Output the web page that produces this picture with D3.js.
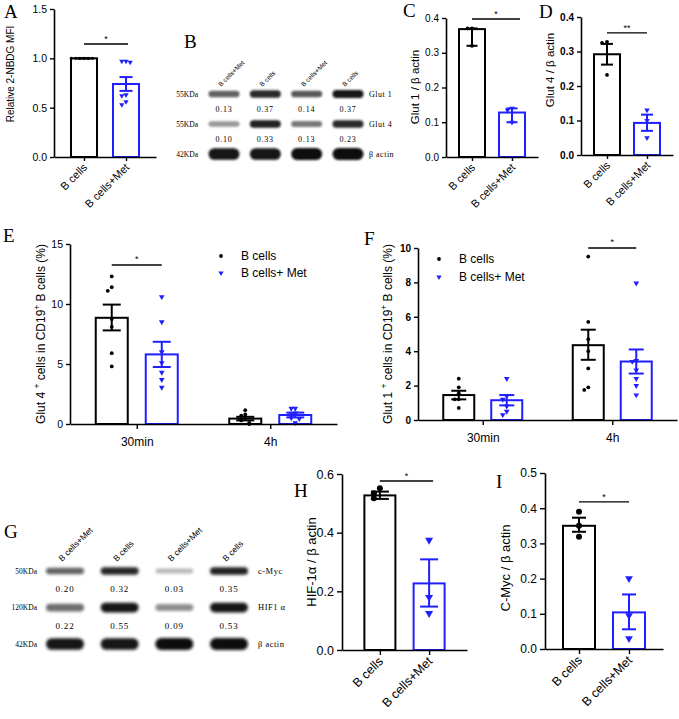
<!DOCTYPE html>
<html><head><meta charset="utf-8">
<script src="https://cdn.jsdelivr.net/npm/d3@7"></script>
<style>body{margin:0;background:#fff}svg{display:block}</style>
</head><body><svg id="c" width="679" height="719"></svg>
<script>
// ================= DATA =================
const twoCats = ["B cells", "B cells+Met"];

// Panel A
const aMeans = [1.0, 0.74];
const aErrLow = [1.0, 0.67];
const aErrHigh = [1.0, 0.81];
const aPtsB = [1, 1, 1, 1, 1, 1];
const aPtsMet = [0.97, 0.97, 0.96, 0.63, 0.62, 0.56, 0.53];
const aTicks = [0, 0.5, 1.0, 1.5];

// Panel C
const cMeans = [0.368, 0.128];
const cErrLow = [0.32, 0.10];
const cErrHigh = [0.37, 0.14];
const cPtsB = [0.37, 0.37, 0.32];
const cPtsMet = [0.14, 0.135, 0.10];
const cTicks = [0, 0.1, 0.2, 0.3, 0.4];

// Panel D
const dMeans = [0.292, 0.093];
const dErrLow = [0.262, 0.07];
const dErrHigh = [0.322, 0.117];
const dPtsB = [0.328, 0.325, 0.232];
const dPtsMet = [0.13, 0.10, 0.05];
const dTicks = [0, 0.1, 0.2, 0.3, 0.4];

// Panels E/F
const timeCats = ["30min", "4h"];
const seriesNames = ["B cells", "B cells+ Met"];

const eMeansB = [8.85, 0.45];
const eErrLowB = [7.8, 0.3];
const eErrHighB = [9.95, 0.6];
const ePtsB = [[12.3, 11.4, 11.1, 8.75, 8.1, 5.9, 4.8], [1.15, 0.8, 0.7, 0.4, 0.3, 0.1, 0.0]];
const eMeansMet = [5.8, 0.75];
const eErrLowMet = [4.75, 0.55];
const eErrHighMet = [6.85, 0.95];
const ePtsMet = [[10.6, 8.5, 6.0, 5.1, 4.3, 3.7, 3.05], [1.3, 1.3, 0.9, 0.75, 0.5, 0.45, 0.1]];
const eTicks = [0, 5, 10, 15];

const fMeansB = [1.45, 4.35];
const fErrLowB = [1.2, 3.5];
const fErrHighB = [1.7, 5.25];
const fPtsB = [[2.4, 1.9, 1.55, 1.2, 1.2, 0.7], [9.5, 5.7, 4.7, 4.0, 3.0, 1.9, 1.75]];
const fMeansMet = [1.15, 3.4];
const fErrLowMet = [0.85, 2.7];
const fErrHighMet = [1.45, 4.1];
const fPtsMet = [[2.4, 1.4, 1.2, 0.8, 0.5, 0.3], [7.95, 3.45, 3.4, 2.9, 2.4, 2.0, 1.45]];
const fTicks = [0, 2, 4, 6, 8, 10];

// Panel H
const hMeans = [0.527, 0.227];
const hErrLow = [0.515, 0.148];
const hErrHigh = [0.54, 0.309];
const hPtsB = [0.551, 0.534, 0.517];
const hPtsMet = [0.375, 0.18, 0.125];
const hTicks = [0, 0.2, 0.4, 0.6];

// Panel I
const iMeans = [0.35, 0.104];
const iErrLow = [0.333, 0.056];
const iErrHigh = [0.373, 0.155];
const iPtsB = [0.39, 0.35, 0.319];
const iPtsMet = [0.2, 0.095, 0.03];
const iTicks = [0, 0.1, 0.2, 0.3, 0.4, 0.5];

// Blot B
const bLanes = ["B cells+Met", "B cells", "B cells+Met", "B cells"];
const bMarkers = ["55KDa", "55KDa", "42KDa"];
const bProteins = ["Glut 1", "Glut 4", "β actin"];
const bRatios = [["0.13", "0.37", "0.14", "0.37"], ["0.10", "0.33", "0.13", "0.23"]];
const bBandDark = [[0.6, 0.85, 0.65, 0.95], [0.35, 0.9, 0.5, 0.85], [0.95, 0.95, 1, 1]];

// Blot G
const gLanes = ["B cells+Met", "B cells", "B cells+Met", "B cells"];
const gMarkers = ["50KDa", "120KDa", "42KDa"];
const gProteins = ["c-Myc", "HIF1 α", "β actin"];
const gRatios = [["0.20", "0.32", "0.03", "0.35"], ["0.22", "0.55", "0.09", "0.53"]];
const gBandDark = [[0.6, 0.88, 0.22, 0.9], [0.55, 0.95, 0.4, 0.95], [0.95, 0.95, 1, 1]];

// ================= DRAWING =================
const BLUE = "#1f1fff";
const SANS = "Liberation Sans, Arial, sans-serif";
const SERIF = "Liberation Serif, Times New Roman, serif";
const svg = d3.select("#c");
svg.append("rect").attr("width", 679).attr("height", 719).attr("fill", "#fff");
const defs = svg.append("defs");
[["blurB", 1.1], ["blurG", 1.4]].forEach(([id, s]) => {
  defs.append("filter").attr("id", id).attr("x", "-30%").attr("y", "-100%").attr("width", "160%").attr("height", "300%")
    .append("feGaussianBlur").attr("stdDeviation", s);
});

function styleAxis(g, font, bold) {
  g.select(".domain").attr("stroke", "#000").attr("stroke-width", 1.6);
  g.selectAll(".tick line").attr("stroke", "#000").attr("stroke-width", 1.4);
  g.selectAll(".tick text").attr("fill", "#000").attr("font-size", font)
    .attr("font-family", SANS).attr("font-weight", bold ? "bold" : "normal");
}

function swarmOffsets(vals, y, spacing) {
  const placed = [];
  return vals.map(v => {
    const py = y(v);
    const n = placed.filter(q => Math.abs(q - py) < spacing).length;
    placed.push(py);
    if (n === 0) return 0;
    return (n % 2 ? -1 : 1) * Math.ceil(n / 2) * spacing;
  });
}

function drawPts(g, vals, cx, y, kind, size, spacing) {
  const offs = swarmOffsets(vals, y, spacing);
  if (kind === "dot") {
    g.selectAll(null).data(vals).join("circle")
      .attr("cx", (d, i) => cx + offs[i]).attr("cy", d => y(d)).attr("r", size).attr("fill", "#000");
  } else {
    g.selectAll(null).data(vals).join("path")
      .attr("d", d3.symbol(d3.symbolTriangle, size))
      .attr("transform", (d, i) => `translate(${cx + offs[i]},${y(d)}) rotate(180)`)
      .attr("fill", BLUE);
  }
}

function errBar(g, cx, y1, y2, capW, color, sw) {
  g.append("line").attr("x1", cx).attr("x2", cx).attr("y1", y1).attr("y2", y2).attr("stroke", color).attr("stroke-width", sw);
  [y1, y2].forEach(yy => g.append("line").attr("x1", cx - capW / 2).attr("x2", cx + capW / 2)
    .attr("y1", yy).attr("y2", yy).attr("stroke", color).attr("stroke-width", sw));
}

function letter(t, x, y) {
  svg.append("text").attr("x", x).attr("y", y).attr("font-family", SERIF).attr("font-size", 19).text(t);
}

function yLabel(g, x, y, font, parts) {
  const t = g.append("text").attr("transform", `translate(${x},${y}) rotate(-90)`).attr("text-anchor", "middle")
    .attr("font-family", SANS).attr("font-size", font).attr("fill", "#000");
  parts.forEach(p => {
    if (typeof p === "string") t.append("tspan").text(p);
    else t.append("tspan").attr("baseline-shift", "super").attr("font-size", font * 0.7).text(p.sup);
  });
}

function twoBar(p) {
  const g = svg.append("g");
  const x = d3.scalePoint().domain(twoCats).range([p.x0, p.x1]).padding(p.pad);
  const y = d3.scaleLinear().domain([0, p.yMax]).range([p.yBase, p.yTop]);
  const colors = ["#000", BLUE];
  g.selectAll(null).data(twoCats).join("rect")
    .attr("x", d => x(d) - p.barW / 2).attr("y", (d, i) => y(p.means[i]))
    .attr("width", p.barW).attr("height", (d, i) => y(0) - y(p.means[i]))
    .attr("fill", "#fff").attr("stroke", (d, i) => colors[i]).attr("stroke-width", p.sw);
  twoCats.forEach((c, i) => errBar(g, x(c), y(p.errLow[i]), y(p.errHigh[i]), p.capW, colors[i], p.sw));
  p.pts.forEach((vals, i) => drawPts(g, vals, x(twoCats[i]), y, i ? "tri" : "dot", i ? p.tri : p.dot, p.spacing));
  const ya = g.append("g").attr("transform", `translate(${p.x0},0)`)
    .call(d3.axisLeft(y).tickValues(p.ticks).tickFormat(d3.format(".1f")).tickSize(p.tick).tickSizeOuter(0));
  styleAxis(ya, p.tickFont, p.bold);
  const xa = g.append("g").attr("transform", `translate(0,${p.yBase})`)
    .call(d3.axisBottom(x).tickSize(p.tick).tickSizeOuter(0).tickFormat(""));
  styleAxis(xa, p.tickFont, p.bold);
  g.selectAll(null).data(twoCats).join("text").attr("text-anchor", "end")
    .attr("transform", d => `translate(${x(d) + 4},${p.yBase + p.tick + 7}) rotate(-45)`)
    .attr("font-family", SANS).attr("font-size", p.xFont).text(d => d);
  const sy = y(p.sig);
  g.append("line").attr("x1", x(twoCats[0])).attr("x2", x(twoCats[1]) + p.sigExt).attr("y1", sy).attr("y2", sy)
    .attr("stroke", "#000").attr("stroke-width", 1.4);
  g.append("text").attr("x", (x(twoCats[0]) + x(twoCats[1]) + p.sigExt) / 2).attr("y", sy - 2)
    .attr("text-anchor", "middle").attr("font-family", SANS).attr("font-size", 9).text(p.sigLabel);
  yLabel(g, p.ylx, p.yly, p.yFont, [p.yText]);
}

function groupBar(p) {
  const g = svg.append("g");
  const x = d3.scalePoint().domain(timeCats).range([p.x0, p.x1]).padding(0.5);
  const xi = d3.scaleBand().domain(seriesNames).range([-p.inner, p.inner]).paddingInner(p.pi);
  const y = d3.scaleLinear().domain([0, p.yMax]).range([p.yBase, p.yTop]);
  const colors = ["#000", BLUE];
  const bw = xi.bandwidth();
  const series = [
    { m: p.meansB, lo: p.lowB, hi: p.highB, pts: p.ptsB },
    { m: p.meansMet, lo: p.lowMet, hi: p.highMet, pts: p.ptsMet }
  ];
  const cx = (t, s) => x(t) + xi(s) + bw / 2;
  series.forEach((s, si) => {
    timeCats.forEach((t, ti) => {
      const c = cx(t, seriesNames[si]);
      g.append("rect").attr("x", c - bw / 2).attr("y", y(s.m[ti])).attr("width", bw).attr("height", y(0) - y(s.m[ti]))
        .attr("fill", "#fff").attr("stroke", colors[si]).attr("stroke-width", 2);
    });
  });
  series.forEach((s, si) => timeCats.forEach((t, ti) =>
    errBar(g, cx(t, seriesNames[si]), y(s.lo[ti]), y(s.hi[ti]), p.capW, colors[si], 2)));
  series.forEach((s, si) => timeCats.forEach((t, ti) =>
    drawPts(g, s.pts[ti], cx(t, seriesNames[si]), y, si ? "tri" : "dot", si ? 14 : 1.9, 4)));
  const ya = g.append("g").attr("transform", `translate(${p.x0},0)`)
    .call(d3.axisLeft(y).tickValues(p.ticks).tickFormat(d3.format("d")).tickSize(4).tickSizeOuter(0));
  styleAxis(ya, p.tickFont, p.bold);
  const xa = g.append("g").attr("transform", `translate(0,${p.yBase})`)
    .call(d3.axisBottom(x).tickSize(5).tickSizeOuter(0).tickPadding(6));
  styleAxis(xa, 12, false);
  xa.selectAll(".tick text").attr("dy", "0.9em");
  const sy = y(p.sig);
  const t0 = timeCats[p.sigGroup];
  g.append("line").attr("x1", cx(t0, seriesNames[0])).attr("x2", cx(t0, seriesNames[1])).attr("y1", sy).attr("y2", sy)
    .attr("stroke", "#000").attr("stroke-width", 1.4);
  g.append("text").attr("x", x(t0)).attr("y", sy - 3).attr("text-anchor", "middle")
    .attr("font-family", SANS).attr("font-size", 9).text("*");
  // legend
  const lg = g.append("g");
  const ly = d3.scalePoint().domain(seriesNames).range(p.legY);
  seriesNames.forEach((s, si) => {
    if (si === 0) lg.append("circle").attr("cx", p.legX).attr("cy", ly(s)).attr("r", 1.9).attr("fill", "#000");
    else lg.append("path").attr("d", d3.symbol(d3.symbolTriangle, 12)).attr("transform", `translate(${p.legX},${ly(s)}) rotate(180)`).attr("fill", BLUE);
    lg.append("text").attr("x", p.legX + 20).attr("y", ly(s)).attr("dy", "0.35em")
      .attr("font-family", SANS).attr("font-size", 12).text(s);
  });
  yLabel(g, p.ylx, p.yly, 12, p.yParts);
}

function blot(p) {
  const g = svg.append("g");
  const xs = d3.scalePoint().domain(d3.range(p.lanes.length)).range(p.laneRange);
  const rowKeys = ["b0", "r0", "b1", "r1", "b2"];
  const ys = d3.scalePoint().domain(rowKeys).range(p.rowRange);
  const gray = d => { const v = Math.round(232 - 222 * d); return `rgb(${v},${v},${v})`; };
  p.dark.forEach((row, ri) => {
    const yy = ys("b" + ri);
    const th = d => p.rowH[ri] * (0.5 + 0.5 * d);
    g.selectAll(null).data(row).join("rect")
      .attr("x", (d, i) => xs(i) - p.bandW / 2).attr("width", p.bandW)
      .attr("y", d => yy - th(d) / 2).attr("height", d => th(d)).attr("rx", d => th(d) / 2)
      .attr("fill", d => gray(d)).attr("filter", `url(#${p.blur})`);
    g.append("text").attr("x", p.markerX).attr("y", yy).attr("dy", "0.35em").attr("text-anchor", "end")
      .attr("font-family", SERIF).attr("font-size", p.markerFont).text(p.markers[ri]);
    g.append("text").attr("x", p.protX).attr("y", yy).attr("dy", "0.35em")
      .attr("font-family", SERIF).attr("font-size", p.protFont).attr("letter-spacing", 0.5).text(p.proteins[ri]);
  });
  p.ratios.forEach((row, ri) => {
    g.selectAll(null).data(row).join("text")
      .attr("x", (d, i) => xs(i)).attr("y", ys("r" + ri)).attr("dy", "0.35em").attr("text-anchor", "middle")
      .attr("font-family", SERIF).attr("font-size", p.ratioFont).attr("letter-spacing", 0.8).text(d => d);
  });
  g.selectAll(null).data(p.lanes).join("text")
    .attr("transform", (d, i) => `translate(${xs(i) - 3},${p.laneY}) rotate(-45)`)
    .attr("font-family", SANS).attr("font-size", p.laneFont).text(d => d);
}

// ---- Panel A
letter("A", 4, 18);
twoBar({ x0: 54, x1: 156, pad: 0.714, yBase: 157, yTop: 9, yMax: 1.5, ticks: aTicks, tick: 4, tickFont: 10.5, bold: false,
  means: aMeans, errLow: aErrLow, errHigh: aErrHigh, pts: [aPtsB, aPtsMet], barW: 26, sw: 2, capW: 13,
  dot: 1.6, tri: 12, spacing: 4.2, xFont: 11, sig: 1.145, sigExt: 2, sigLabel: "*",
  ylx: 14, yly: 74, yFont: 10, yText: "Relative 2-NBDG MFI" });

// ---- Panel B blot
letter("B", 184, 48);
blot({ lanes: bLanes, markers: bMarkers, proteins: bProteins, ratios: bRatios, dark: bBandDark,
  laneRange: [224, 348], rowRange: [94, 154], bandW: 31, rowH: [8, 8, 12], blur: "blurB",
  laneY: 87, laneFont: 6.5, markerX: 198, markerFont: 7.5, protX: 369, protFont: 8, ratioFont: 8 });

// ---- Panel C
letter("C", 403, 17);
twoBar({ x0: 446, x1: 538, pad: 0.65, yBase: 157, yTop: 18, yMax: 0.4, ticks: cTicks, tick: 4, tickFont: 10, bold: false,
  means: cMeans, errLow: cErrLow, errHigh: cErrHigh, pts: [cPtsB, cPtsMet], barW: 26, sw: 2, capW: 11,
  dot: 1.9, tri: 13, spacing: 4.5, xFont: 11, sig: 0.397, sigExt: 8, sigLabel: "*",
  ylx: 419, yly: 87, yFont: 11.5, yText: "Glut 1 / β actin" });

// ---- Panel D
letter("D", 539, 18);
twoBar({ x0: 581, x1: 673, pad: 0.65, yBase: 155, yTop: 17, yMax: 0.4, ticks: dTicks, tick: 4, tickFont: 10, bold: true,
  means: dMeans, errLow: dErrLow, errHigh: dErrHigh, pts: [dPtsB, dPtsMet], barW: 26, sw: 2, capW: 12,
  dot: 1.9, tri: 13, spacing: 5, xFont: 11, sig: 0.354, sigExt: 0, sigLabel: "**",
  ylx: 554, yly: 70, yFont: 11.5, yText: "Glut 4 / β actin" });

// ---- Panel E
letter("E", 3, 242);
groupBar({ x0: 70, x1: 337, yBase: 424, yTop: 244, yMax: 15, ticks: eTicks, tickFont: 10.5, bold: false,
  inner: 41, pi: 0.36, capW: 18,
  meansB: eMeansB, lowB: eErrLowB, highB: eErrHighB, ptsB: ePtsB,
  meansMet: eMeansMet, lowMet: eErrLowMet, highMet: eErrHighMet, ptsMet: ePtsMet,
  sig: 13.25, sigGroup: 0, legX: 221, legY: [256, 273], ylx: 45, yly: 334,
  yParts: ["Glut 4 ", { sup: "+" }, " cells in CD19", { sup: "+" }, " B cells (%)"] });

// ---- Panel F
letter("F", 364, 245);
groupBar({ x0: 418, x1: 677, yBase: 420, yTop: 248, yMax: 10, ticks: fTicks, tickFont: 10, bold: true,
  inner: 39.5, pi: 0.354, capW: 15,
  meansB: fMeansB, lowB: fErrLowB, highB: fErrHighB, ptsB: fPtsB,
  meansMet: fMeansMet, lowMet: fErrLowMet, highMet: fErrHighMet, ptsMet: fPtsMet,
  sig: 10.0, sigGroup: 1, legX: 439, legY: [259, 277], ylx: 392, yly: 334,
  yParts: ["Glut 1 ", { sup: "+" }, " cells in CD19", { sup: "+" }, " B cells (%)"] });

// ---- Panel G blot
letter("G", 4, 538);
blot({ lanes: gLanes, markers: gMarkers, proteins: gProteins, ratios: gRatios, dark: gBandDark,
  laneRange: [65, 229], rowRange: [571, 644], bandW: 38, rowH: [8, 10, 12], blur: "blurG",
  laneY: 562, laneFont: 8.5, markerX: 37, markerFont: 7.5, protX: 258, protFont: 8.5, ratioFont: 9 });

// ---- Panel H
letter("H", 294, 497);
twoBar({ x0: 342, x1: 467, pad: 0.77, yBase: 650, yTop: 474, yMax: 0.6, ticks: hTicks, tick: 5, tickFont: 12.5, bold: false,
  means: hMeans, errLow: hErrLow, errHigh: hErrHigh, pts: [hPtsB, hPtsMet], barW: 31, sw: 2, capW: 18,
  dot: 3, tri: 28, spacing: 6, xFont: 12.5, sig: 0.576, sigExt: 4, sigLabel: "*",
  ylx: 316, yly: 562, yFont: 13, yText: "HIF-1α / β actin" });

// ---- Panel I
letter("I", 496, 488);
twoBar({ x0: 545, x1: 663, pad: 0.68, yBase: 649, yTop: 473, yMax: 0.5, ticks: iTicks, tick: 5, tickFont: 12, bold: false,
  means: iMeans, errLow: iErrLow, errHigh: iErrHigh, pts: [iPtsB, iPtsMet], barW: 32, sw: 2, capW: 14,
  dot: 3, tri: 26, spacing: 6, xFont: 12.5, sig: 0.418, sigExt: 0, sigLabel: "*",
  ylx: 510, yly: 568, yFont: 13, yText: "C-Myc / β actin" });
</script></body></html>
